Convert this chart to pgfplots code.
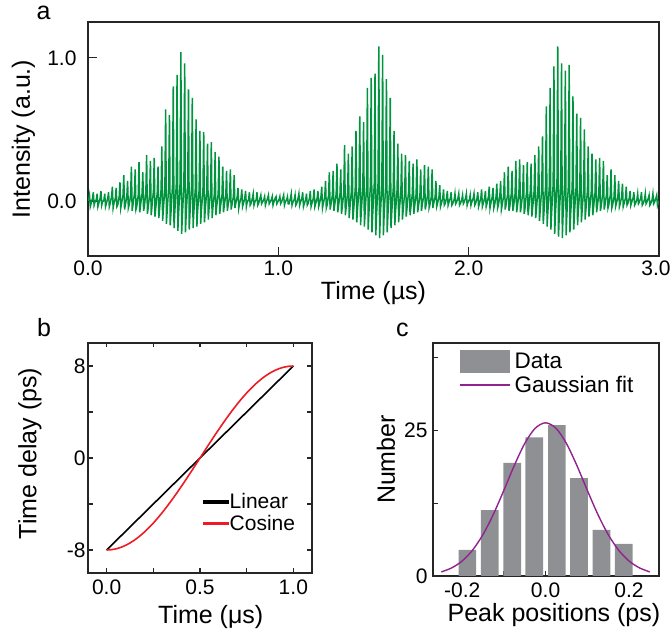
\documentclass[border=0pt]{standalone}
\usepackage{fontspec}
\setmainfont{Liberation Sans}
\usepackage{pgfplots}
\pgfplotsset{compat=1.18}
\definecolor{sgreen}{RGB}{0,148,62}
\definecolor{bargray}{RGB}{142,144,148}
\definecolor{fitpurple}{RGB}{145,35,145}
\definecolor{cosred}{RGB}{237,28,36}
\newcommand{\tk}{\fontsize{21}{24}\selectfont}
\newcommand{\lb}{\fontsize{25}{29}\selectfont}
\pgfplotsset{
  myax/.style={
    scale only axis, anchor=south west,
    tick align=inside,
    axis line style={line width=1.4pt, black!85},
    every tick/.style={line width=1.3pt, black!85},
    tick label style={font=\tk},
    label style={font=\lb},
    clip=true,
  }
}
\begin{document}
\begin{tikzpicture}
\useasboundingbox (0pt,0pt) rectangle (672pt,637pt);
% ---------------- panel a ----------------
\begin{axis}[myax,
  at={(88pt,381pt)}, width=571pt, height=234pt,
  xmin=0, xmax=3, ymin=-0.385, ymax=1.25,
  xtick={0,1,2,3}, xticklabels={0.0,1.0,2.0,\hspace*{-6pt}3.0},
  ytick={0,1}, yticklabels={0.0,1.0},
  tick pos=left, major tick length=9pt,
  xticklabel style={yshift=-1pt},
  yticklabel style={xshift=-8pt},
  xlabel={Time (µs)}, ylabel={Intensity (a.u.)},
  xlabel style={at={(axis description cs:0.5,-0.158)}, anchor=center},
  ylabel style={at={(axis description cs:-0.113,0.5)}, anchor=center},
]
\addplot[sgreen, line width=1.5pt] coordinates {
(0,0.0)
(0.004,0.01)(0.008,0.04)(0.012,-0.04)(0.016,-0.02)
(0.024,0.02)(0.028,0.06)(0.032,-0.03)(0.036,-0.01)
(0.044,0.01)(0.048,0.05)(0.052,-0.04)(0.056,-0.02)
(0.064,0.02)(0.068,0.07)(0.072,-0.03)(0.076,-0.01)
(0.084,0.01)(0.088,0.05)(0.092,-0.04)(0.096,-0.02)
(0.104,0.02)(0.108,0.06)(0.112,-0.04)(0.116,-0.02)
(0.124,0.03)(0.128,0.10)(0.132,-0.05)(0.136,-0.02)
(0.144,0.02)(0.148,0.09)(0.152,-0.04)(0.156,-0.03)
(0.164,0.03)(0.168,0.13)(0.172,-0.05)(0.176,-0.02)
(0.184,0.04)(0.188,0.18)(0.192,-0.06)(0.196,-0.03)
(0.204,0.03)(0.208,0.14)(0.212,-0.05)(0.216,-0.03)
(0.224,0.04)(0.228,0.24)(0.232,-0.07)(0.236,-0.03)
(0.244,0.05)(0.248,0.22)(0.252,-0.06)(0.256,-0.04)
(0.264,0.04)(0.268,0.27)(0.272,-0.08)(0.276,-0.03)
(0.284,0.05)(0.288,0.20)(0.292,-0.07)(0.296,-0.04)
(0.304,0.06)(0.308,0.32)(0.312,-0.09)(0.316,-0.05)
(0.324,0.05)(0.328,0.28)(0.332,-0.10)(0.336,-0.04)
(0.344,0.07)(0.348,0.30)(0.352,-0.11)(0.356,-0.05)
(0.364,0.06)(0.368,0.24)(0.372,-0.12)(0.376,-0.06)
(0.384,0.08)(0.388,0.38)(0.392,-0.14)(0.396,-0.06)
(0.404,0.09)(0.408,0.64)(0.412,-0.16)(0.416,-0.07)
(0.424,0.10)(0.428,0.60)(0.432,-0.17)(0.436,-0.08)
(0.444,0.11)(0.448,0.80)(0.452,-0.19)(0.456,-0.08)
(0.464,0.12)(0.468,0.88)(0.472,-0.21)(0.476,-0.09)
(0.484,0.13)(0.488,1.04)(0.492,-0.23)(0.496,-0.10)
(0.504,0.12)(0.508,0.96)(0.512,-0.22)(0.516,-0.09)
(0.524,0.11)(0.528,0.78)(0.532,-0.20)(0.536,-0.08)
(0.544,0.10)(0.548,0.72)(0.552,-0.19)(0.556,-0.08)
(0.564,0.09)(0.568,0.57)(0.572,-0.18)(0.576,-0.07)
(0.584,0.08)(0.588,0.49)(0.592,-0.16)(0.596,-0.06)
(0.604,0.07)(0.608,0.48)(0.612,-0.15)(0.616,-0.06)
(0.624,0.07)(0.628,0.40)(0.632,-0.13)(0.636,-0.05)
(0.644,0.06)(0.648,0.41)(0.652,-0.12)(0.656,-0.05)
(0.664,0.05)(0.668,0.34)(0.672,-0.10)(0.676,-0.04)
(0.684,0.05)(0.688,0.31)(0.692,-0.09)(0.696,-0.04)
(0.704,0.04)(0.708,0.24)(0.712,-0.08)(0.716,-0.03)
(0.724,0.04)(0.728,0.21)(0.732,-0.07)(0.736,-0.03)
(0.744,0.03)(0.748,0.22)(0.752,-0.06)(0.756,-0.03)
(0.764,0.03)(0.768,0.18)(0.772,-0.05)(0.776,-0.02)
(0.784,0.03)(0.788,0.09)(0.792,-0.05)(0.796,-0.02)
(0.804,0.02)(0.808,0.08)(0.812,-0.04)(0.816,-0.02)
(0.824,0.02)(0.828,0.07)(0.832,-0.04)(0.836,-0.01)
(0.844,0.01)(0.848,0.06)(0.852,-0.03)(0.856,-0.02)
(0.864,0.02)(0.868,0.05)(0.872,-0.03)(0.876,-0.01)
(0.884,0.01)(0.888,0.06)(0.892,-0.03)(0.896,-0.02)
(0.904,0.02)(0.908,0.04)(0.912,-0.02)(0.916,-0.01)
(0.924,0.01)(0.928,0.03)(0.932,-0.03)(0.936,-0.01)
(0.944,0.02)(0.948,0.04)(0.952,-0.02)(0.956,-0.01)
(0.964,0.01)(0.968,0.03)(0.972,-0.03)(0.976,-0.01)
(0.984,0.02)(0.988,0.03)(0.992,-0.02)(0.996,-0.01)
(1.004,0.01)(1.008,0.03)(1.012,-0.02)(1.016,-0.01)
(1.024,0.02)(1.028,0.04)(1.032,-0.03)(1.036,-0.01)
(1.044,0.01)(1.048,0.03)(1.052,-0.02)(1.056,-0.02)
(1.064,0.02)(1.068,0.05)(1.072,-0.03)(1.076,-0.01)
(1.084,0.01)(1.088,0.04)(1.092,-0.03)(1.096,-0.02)
(1.104,0.02)(1.108,0.05)(1.112,-0.03)(1.116,-0.01)
(1.124,0.02)(1.128,0.06)(1.132,-0.04)(1.136,-0.02)
(1.144,0.01)(1.148,0.05)(1.152,-0.03)(1.156,-0.02)
(1.164,0.02)(1.168,0.07)(1.172,-0.04)(1.176,-0.02)
(1.184,0.02)(1.188,0.08)(1.192,-0.04)(1.196,-0.02)
(1.204,0.02)(1.208,0.07)(1.212,-0.04)(1.216,-0.02)
(1.224,0.03)(1.228,0.10)(1.232,-0.05)(1.236,-0.02)
(1.244,0.03)(1.248,0.14)(1.252,-0.05)(1.256,-0.03)
(1.264,0.04)(1.268,0.20)(1.272,-0.06)(1.276,-0.03)
(1.284,0.04)(1.288,0.21)(1.292,-0.07)(1.296,-0.03)
(1.304,0.05)(1.308,0.26)(1.312,-0.08)(1.316,-0.04)
(1.324,0.05)(1.328,0.22)(1.332,-0.09)(1.336,-0.04)
(1.344,0.06)(1.348,0.39)(1.352,-0.10)(1.356,-0.05)
(1.364,0.06)(1.368,0.33)(1.372,-0.12)(1.376,-0.05)
(1.384,0.07)(1.388,0.38)(1.392,-0.13)(1.396,-0.06)
(1.404,0.08)(1.408,0.49)(1.412,-0.15)(1.416,-0.06)
(1.424,0.09)(1.428,0.59)(1.432,-0.17)(1.436,-0.07)
(1.444,0.10)(1.448,0.55)(1.452,-0.18)(1.456,-0.08)
(1.464,0.11)(1.468,0.79)(1.472,-0.20)(1.476,-0.08)
(1.484,0.12)(1.488,0.86)(1.492,-0.22)(1.496,-0.09)
(1.504,0.12)(1.508,0.89)(1.512,-0.24)(1.516,-0.10)
(1.524,0.13)(1.528,1.08)(1.532,-0.26)(1.536,-0.10)
(1.544,0.12)(1.548,1.02)(1.552,-0.24)(1.556,-0.09)
(1.564,0.11)(1.568,0.85)(1.572,-0.22)(1.576,-0.09)
(1.584,0.10)(1.588,0.72)(1.592,-0.19)(1.596,-0.08)
(1.604,0.09)(1.608,0.49)(1.612,-0.17)(1.616,-0.07)
(1.624,0.08)(1.628,0.40)(1.632,-0.15)(1.636,-0.06)
(1.644,0.07)(1.648,0.33)(1.652,-0.13)(1.656,-0.06)
(1.664,0.06)(1.668,0.32)(1.672,-0.11)(1.676,-0.05)
(1.684,0.06)(1.688,0.28)(1.692,-0.10)(1.696,-0.05)
(1.704,0.05)(1.708,0.26)(1.712,-0.09)(1.716,-0.04)
(1.724,0.05)(1.728,0.29)(1.732,-0.08)(1.736,-0.04)
(1.744,0.04)(1.748,0.22)(1.752,-0.07)(1.756,-0.03)
(1.764,0.04)(1.768,0.25)(1.772,-0.06)(1.776,-0.03)
(1.784,0.04)(1.788,0.24)(1.792,-0.05)(1.796,-0.03)
(1.804,0.03)(1.808,0.22)(1.812,-0.05)(1.816,-0.02)
(1.824,0.03)(1.828,0.14)(1.832,-0.04)(1.836,-0.02)
(1.844,0.03)(1.848,0.11)(1.852,-0.04)(1.856,-0.02)
(1.864,0.02)(1.868,0.08)(1.872,-0.03)(1.876,-0.02)
(1.884,0.02)(1.888,0.07)(1.892,-0.03)(1.896,-0.01)
(1.904,0.02)(1.908,0.06)(1.912,-0.03)(1.916,-0.02)
(1.924,0.01)(1.928,0.05)(1.932,-0.02)(1.936,-0.01)
(1.944,0.02)(1.948,0.05)(1.952,-0.03)(1.956,-0.02)
(1.964,0.01)(1.968,0.04)(1.972,-0.02)(1.976,-0.01)
(1.984,0.02)(1.988,0.05)(1.992,-0.03)(1.996,-0.01)
(2.004,0.01)(2.008,0.04)(2.012,-0.03)(2.016,-0.01)
(2.024,0.02)(2.028,0.05)(2.032,-0.03)(2.036,-0.02)
(2.044,0.02)(2.048,0.06)(2.052,-0.04)(2.056,-0.02)
(2.064,0.02)(2.068,0.08)(2.072,-0.04)(2.076,-0.02)
(2.084,0.02)(2.088,0.07)(2.092,-0.04)(2.096,-0.02)
(2.104,0.03)(2.108,0.10)(2.112,-0.05)(2.116,-0.02)
(2.124,0.03)(2.128,0.09)(2.132,-0.05)(2.136,-0.03)
(2.144,0.03)(2.148,0.12)(2.152,-0.05)(2.156,-0.03)
(2.164,0.04)(2.168,0.14)(2.172,-0.06)(2.176,-0.03)
(2.184,0.04)(2.188,0.20)(2.192,-0.06)(2.196,-0.03)
(2.204,0.04)(2.208,0.24)(2.212,-0.07)(2.216,-0.04)
(2.224,0.05)(2.228,0.21)(2.232,-0.07)(2.236,-0.04)
(2.244,0.05)(2.248,0.28)(2.252,-0.08)(2.256,-0.04)
(2.264,0.05)(2.268,0.29)(2.272,-0.08)(2.276,-0.04)
(2.284,0.06)(2.288,0.25)(2.292,-0.09)(2.296,-0.05)
(2.304,0.06)(2.308,0.27)(2.312,-0.10)(2.316,-0.05)
(2.324,0.07)(2.328,0.26)(2.332,-0.11)(2.336,-0.05)
(2.344,0.07)(2.348,0.32)(2.352,-0.12)(2.356,-0.06)
(2.364,0.08)(2.368,0.38)(2.372,-0.14)(2.376,-0.06)
(2.384,0.09)(2.388,0.45)(2.392,-0.16)(2.396,-0.07)
(2.404,0.10)(2.408,0.66)(2.412,-0.18)(2.416,-0.08)
(2.424,0.11)(2.428,0.79)(2.432,-0.20)(2.436,-0.08)
(2.444,0.12)(2.448,0.94)(2.452,-0.23)(2.456,-0.09)
(2.464,0.13)(2.468,1.08)(2.472,-0.25)(2.476,-0.10)
(2.484,0.12)(2.488,0.96)(2.492,-0.26)(2.496,-0.10)
(2.504,0.12)(2.508,0.91)(2.512,-0.24)(2.516,-0.09)
(2.524,0.11)(2.528,0.95)(2.532,-0.22)(2.536,-0.09)
(2.544,0.10)(2.548,0.73)(2.552,-0.20)(2.556,-0.08)
(2.564,0.09)(2.568,0.61)(2.572,-0.17)(2.576,-0.07)
(2.584,0.08)(2.588,0.58)(2.592,-0.15)(2.596,-0.07)
(2.604,0.08)(2.608,0.50)(2.612,-0.13)(2.616,-0.06)
(2.624,0.07)(2.628,0.38)(2.632,-0.11)(2.636,-0.05)
(2.644,0.06)(2.648,0.33)(2.652,-0.10)(2.656,-0.05)
(2.664,0.06)(2.668,0.29)(2.672,-0.08)(2.676,-0.04)
(2.684,0.05)(2.688,0.30)(2.692,-0.07)(2.696,-0.04)
(2.704,0.05)(2.708,0.28)(2.712,-0.06)(2.716,-0.03)
(2.724,0.04)(2.728,0.18)(2.732,-0.05)(2.736,-0.03)
(2.744,0.04)(2.748,0.22)(2.752,-0.05)(2.756,-0.03)
(2.764,0.03)(2.768,0.18)(2.772,-0.04)(2.776,-0.02)
(2.784,0.03)(2.788,0.14)(2.792,-0.04)(2.796,-0.02)
(2.804,0.03)(2.808,0.12)(2.812,-0.04)(2.816,-0.02)
(2.824,0.02)(2.828,0.10)(2.832,-0.03)(2.836,-0.02)
(2.844,0.02)(2.848,0.07)(2.852,-0.03)(2.856,-0.01)
(2.864,0.02)(2.868,0.06)(2.872,-0.03)(2.876,-0.02)
(2.884,0.01)(2.888,0.05)(2.892,-0.02)(2.896,-0.01)
(2.904,0.02)(2.908,0.06)(2.912,-0.03)(2.916,-0.02)
(2.924,0.01)(2.928,0.05)(2.932,-0.02)(2.936,-0.01)
(2.944,0.02)(2.948,0.04)(2.952,-0.03)(2.956,-0.02)
(2.964,0.01)(2.968,0.05)(2.972,-0.02)(2.976,-0.01)
(2.984,0.02)(2.988,0.04)(2.992,-0.03)(2.996,-0.01)
(3.0,0.0)
};
\end{axis}
% ---------------- panel b ----------------
\begin{axis}[myax,
  at={(88pt,64pt)}, width=224pt, height=230pt,
  xmin=-0.1, xmax=1.1, ymin=-10, ymax=10,
  xtick={0,0.5,1}, xticklabels={0.0,0.5,1.0},
  minor xtick={0.25,0.75},
  ytick={-8,0,8}, yticklabels={-8,0,8},
  minor ytick={-4,4},
  major tick length=4.5pt, minor tick length=4.5pt,
  every minor tick/.style={line width=1.3pt, black!85},
  xticklabel style={yshift=-3pt},
  yticklabel style={xshift=1pt},
  xlabel={Time (μs)}, ylabel={Time delay (ps)},
  xlabel style={at={(axis description cs:0.548,-0.191)}, anchor=center},
  ylabel style={at={(axis description cs:-0.259,0.52)}, anchor=center},
  legend cell align=left,
  legend style={at={(axis description cs:0.513,0.357)}, anchor=north west,
    draw=none, fill=none, inner sep=0pt, font=\tk,
    nodes={inner xsep=1pt, inner ysep=2.5pt}},
]
\addplot[black, line width=1.6pt,
  legend image code/.code={\fill[black] (0pt,-0.8pt) rectangle (24pt,0.8pt);}]
  coordinates {(0,-8)(1,8)};
\addlegendentry{Linear}
\addplot[color=cosred, line width=1.6pt,
  legend image code/.code={\fill[cosred] (0pt,-0.8pt) rectangle (24pt,0.8pt);}]
  coordinates {
(0,-8)(0.025,-7.975)(0.05,-7.902)(0.075,-7.779)(0.1,-7.608)(0.125,-7.391)
(0.15,-7.128)(0.175,-6.821)(0.2,-6.472)(0.225,-6.083)(0.25,-5.657)
(0.275,-5.196)(0.3,-4.702)(0.325,-4.180)(0.35,-3.632)(0.375,-3.061)
(0.4,-2.472)(0.425,-1.868)(0.45,-1.251)(0.475,-0.628)(0.5,0)
(0.525,0.628)(0.55,1.251)(0.575,1.868)(0.6,2.472)(0.625,3.061)
(0.65,3.632)(0.675,4.180)(0.7,4.702)(0.725,5.196)(0.75,5.657)
(0.775,6.083)(0.8,6.472)(0.825,6.821)(0.85,7.128)(0.875,7.391)
(0.9,7.608)(0.925,7.779)(0.95,7.902)(0.975,7.975)(1,8)};
\addlegendentry{Cosine}
\end{axis}
% ---------------- panel c ----------------
\begin{axis}[myax,
  at={(433pt,61pt)}, width=226pt, height=233pt,
  xmin=-0.27, xmax=0.272, ymin=0, ymax=40,
  xtick={-0.2,0,0.2}, xticklabels={-0.2,0.0,0.2},
  minor xtick={-0.1,0.1},
  ytick={0,25}, yticklabels={0,25},
  minor ytick={12.5,37.5},
  tick pos=left,
  major tick length=5pt, minor tick length=5pt,
  every minor tick/.style={line width=1.3pt, black!85},
  xticklabel style={yshift=-3pt},
  yticklabel style={xshift=-2pt},
  xlabel={Peak positions (ps)}, ylabel={Number},
  xlabel style={at={(axis description cs:0.535,-0.167)}, anchor=center},
  ylabel style={at={(axis description cs:-0.208,0.5)}, anchor=center},
  legend cell align=left,
  legend style={at={(axis description cs:0.115,0.97)}, anchor=north west,
    draw=none, fill=none, inner sep=0pt, font=\fontsize{22.5}{26}\selectfont,
    nodes={inner xsep=4pt, inner ysep=3pt}},
]
\addplot[ybar, bar width=0.0424, fill=bargray, draw=none,
  legend image code/.code={\fill[bargray] (0pt,-11.5pt) rectangle (50pt,11.5pt);}]
  coordinates {(-0.1875,4.5)(-0.134,11.3)(-0.080,19.4)(-0.027,23.8)
  (0.027,25.9)(0.080,16.8)(0.134,7.9)(0.1875,5.5)};
\addlegendentry{Data}
\addplot[fitpurple, line width=1.4pt, smooth,
  legend image code/.code={\draw[fitpurple, line width=1.4pt] (0pt,0pt) -- (50pt,0pt);}]
  coordinates {
(-0.25,0.70)(-0.225,1.40)(-0.2,2.58)(-0.175,4.45)(-0.15,7.13)(-0.125,10.63)
(-0.1,14.72)(-0.075,18.98)(-0.05,22.75)(-0.025,25.36)(0,26.3)(0.025,25.36)
(0.05,22.75)(0.075,18.98)(0.1,14.72)(0.125,10.63)(0.15,7.13)(0.175,4.45)
(0.2,2.58)(0.225,1.40)(0.25,0.70)};
\addlegendentry{Gaussian fit}
\end{axis}
% panel letters
\node[anchor=base west, inner sep=0pt, font=\lb] at (36.4pt,617.7pt) {a};
\node[anchor=base west, inner sep=0pt, font=\lb] at (37pt,300.3pt) {b};
\node[anchor=base west, inner sep=0pt, font=\lb] at (396pt,300.3pt) {c};
\end{tikzpicture}
\end{document}
